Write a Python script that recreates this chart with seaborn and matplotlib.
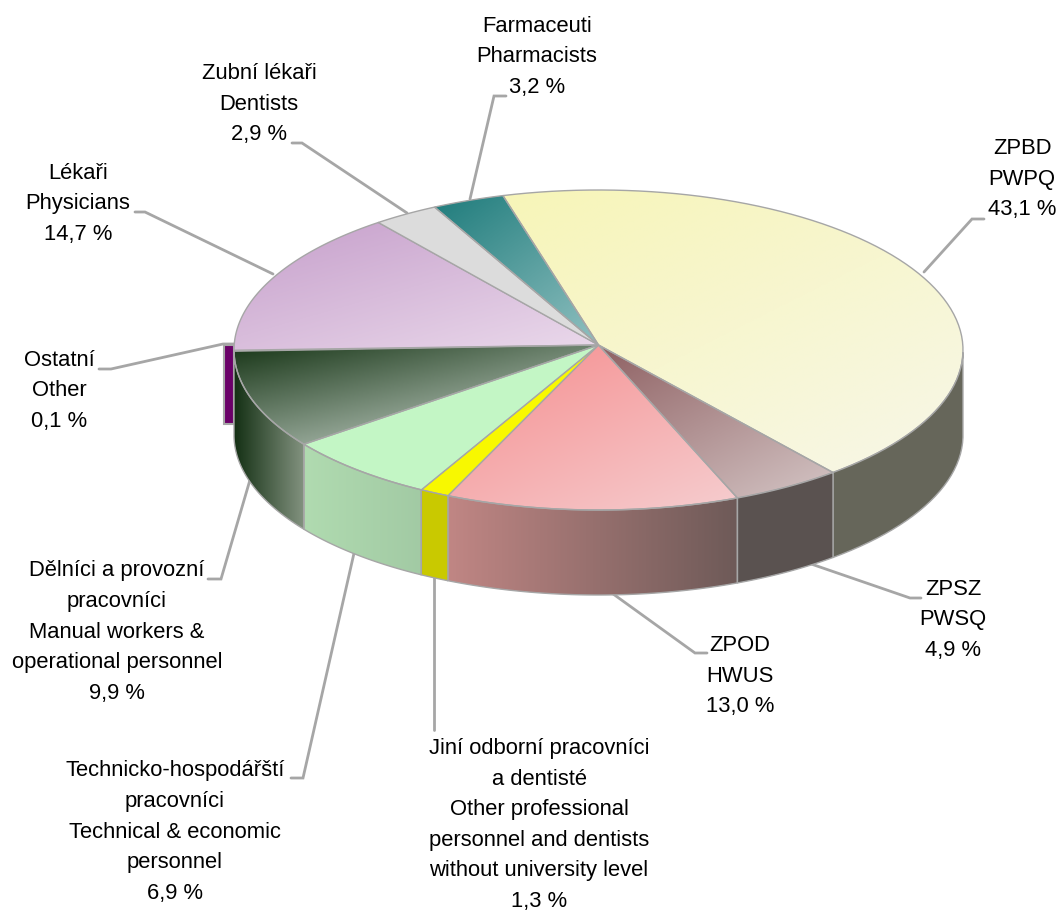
"""
3D look pie of health care staff shares, drawn on pixel sized axes
"""
import numpy as np
import matplotlib.pyplot as plt
import seaborn as sns

# clockwise, starting with the big slice
names = [
    "ZPBD\nPWPQ",
    "ZPSZ\nPWSQ",
    "ZPOD\nHWUS",
    "Jiní odborní pracovníci\na dentisté\nOther professional\npersonnel and dentists\nwithout university level",
    "Technicko-hospodářští\npracovníci\nTechnical & economic\npersonnel",
    "Dělníci a provozní\npracovníci\nManual workers &\noperational personnel",
    "Ostatní\nOther",
    "Lékaři\nPhysicians",
    "Zubní lékaři\nDentists",
    "Farmaceuti\nPharmacists",
]
values = [43.1, 4.9, 13.0, 1.3, 6.9, 9.9, 0.1, 14.7, 2.9, 3.2]

top_from = ["#f7f5b8", "#8f6163", "#f58d8e", "#f8f800", "#c3f6c5",
            "#173516", "#6a0068", "#c69fcb", "#dcdcdc", "#1f7c7c"]
top_to = ["#f7f7e8", "#d4c5c5", "#f6cdcf", "#f8f800", "#c3f6c5",
          "#93a595", "#6a0068", "#ead9eb", "#dcdcdc", "#90c0c0"]
wall_from = ["#66665a", "#5a5250", "#c08684", "#c9c900", "#b0dbb0",
             "#143014", "#6a0068", "#c69fcb", "#dcdcdc", "#1f7c7c"]
wall_to = ["#66665a", "#5a5250", "#6e5a58", "#c9c900", "#a2caa4",
           "#82927f", "#6a0068", "#c69fcb", "#dcdcdc", "#1f7c7c"]

label_xy = [(1022, 179), (953, 620), (740, 676), (539, 825), (175, 832),
            (117, 632), (59, 391), (78, 204), (259, 104), (537, 57)]
leaders = [
    [(924, 272), (972, 219), (984, 219)],
    [(785, 555), (910, 598), (921, 598)],
    [(591, 578), (695, 653), (707, 653)],
    [(434, 566), (434, 730)],
    [(357, 540), (303, 778), (291, 778)],
    [(252, 473), (221, 579), (208, 579)],
    [(234, 344), (223, 344), (111, 369), (99, 369)],
    [(273, 274), (145, 212), (135, 212)],
    [(407, 213), (302, 143), (292, 143)],
    [(470, 199), (494, 96), (506, 96)],
]

GREY = "#a6a6a6"
CX, CY = 598.5, 350
RX, RY = 364.5, 160
APEX_Y = 345
DEPTH = 85
START = -15.2


def rim(angles):
    rad = np.radians(angles)
    return CX + RX * np.sin(rad), CY - RY * np.cos(rad)


def shade(ax, xs, ys, c_from, c_to, tilt=(0.45, 0.55)):
    poly = ax.fill(xs, ys, color=c_from, ec=GREY, lw=1.0, zorder=3)[0]
    if c_from == c_to:
        return
    u, v = np.meshgrid(np.linspace(0, 1, 200), np.linspace(0, 1, 200))
    grad = np.minimum(tilt[0] * u + tilt[1] * v, 1)
    cmap = sns.blend_palette([c_from, c_to], as_cmap=True)
    im = ax.imshow(grad, cmap=cmap, aspect="auto", zorder=2.5, vmin=0, vmax=1,
                   extent=(min(xs), max(xs), max(ys), min(ys)))
    im.set_clip_path(poly)
    poly.set_facecolor("none")


sns.set_theme(style="white")
plt.rcParams["font.family"] = ["Liberation Sans", "DejaVu Sans"]

fig = plt.figure(figsize=(10.57, 9.14), dpi=100)
ax = fig.add_axes([0, 0, 1, 1])

edges = START + np.cumsum([0] + values) * 3.6
for i, val in enumerate(values):
    a0, a1 = edges[i], edges[i + 1]
    if names[i].startswith("Ostatní"):
        # the tiny slice is pulled out, only its cut face shows
        ax.fill([224, 234, 234, 224], [APEX_Y, APEX_Y, APEX_Y + 79, APEX_Y + 79],
                color=wall_from[i], ec=GREY, lw=1.5, zorder=1.5)
        continue
    arc = np.linspace(a0, a1, 80)
    x, y = rim(arc)
    tilt = (0.7, 0.85) if names[i].startswith("Dělníci") else (0.45, 0.55)
    shade(ax, np.r_[CX, x], np.r_[APEX_Y, y], top_from[i], top_to[i], tilt)
    # front wall is only the part of the rim below the widest line
    front = arc[(arc >= 90) & (arc <= 270)]
    if len(front) > 1:
        fx, fy = rim(front)
        shade(ax, np.r_[fx, fx[::-1]], np.r_[fy, fy[::-1] + DEPTH],
              wall_from[i], wall_to[i], tilt=(1, 0))

for pts in leaders:
    ax.plot(*zip(*pts), color=GREY, lw=2.0, zorder=1, solid_joinstyle="miter")

for name, val, (lx, ly) in zip(names, values, label_xy):
    txt = name + "\n" + f"{val:.1f} %".replace(".", ",")
    ax.text(lx, ly, txt, ha="center", va="center", fontsize=15.8,
            color="black", linespacing=1.6, zorder=4)

ax.set_xlim(0, 1057)
ax.set_ylim(914, 0)
ax.axis("off")

fig.savefig("out.png", dpi=100, facecolor="white")
